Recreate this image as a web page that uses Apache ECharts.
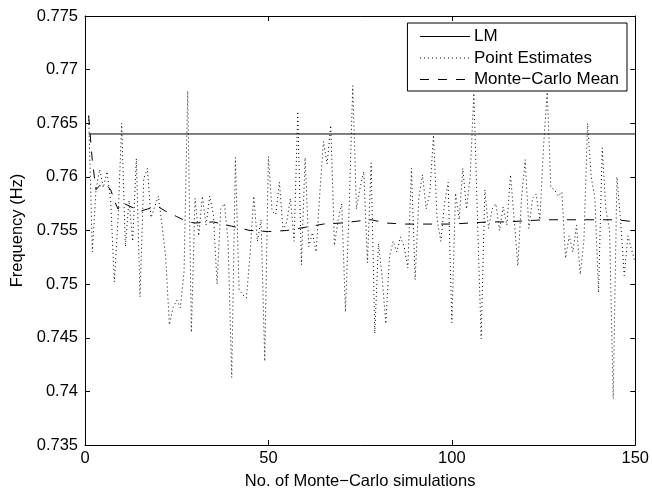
<!DOCTYPE html>
<html>
<head>
<meta charset="utf-8">
<script src="https://cdn.jsdelivr.net/npm/echarts@6/dist/echarts.min.js"></script>
<style>
html,body{margin:0;padding:0;background:#fff;}
#chart{width:652px;height:495px;}
</style>
</head>
<body>
<div id="chart"></div>
<script>
// ---- data ----
const lmValue = 0.764;
const lmRange = [1, 150];

const pointEstimates = [
  0.7657,0.7530,0.7588,0.7607,0.7590,0.7605,0.7578,0.7502,0.7560,0.7650,
  0.7535,0.7578,0.7540,0.7617,0.7488,0.7598,0.7608,0.7562,0.7572,0.7582,
  0.7555,0.7525,0.7462,0.7478,0.7485,0.7478,0.7512,0.7680,0.7455,0.7580,
  0.7545,0.7582,0.7555,0.7582,0.7565,0.7500,0.7570,0.7575,0.7540,0.7413,
  0.7618,0.7495,0.7490,0.7487,0.7528,0.7582,0.7540,0.7560,0.7428,0.7619,
  0.7568,0.7565,0.7595,0.7550,0.7558,0.7580,0.7540,0.7661,0.7518,0.7618,
  0.7535,0.7548,0.7530,0.7584,0.7633,0.7612,0.7648,0.7536,0.7560,0.7575,
  0.7474,0.7570,0.7685,0.7570,0.7590,0.7605,0.7520,0.7613,0.7454,0.7538,
  0.7507,0.7463,0.7525,0.7540,0.7530,0.7544,0.7535,0.7515,0.7608,0.7504,
  0.7580,0.7602,0.7570,0.7585,0.7639,0.7560,0.7540,0.7575,0.7595,0.7464,
  0.7585,0.7560,0.7608,0.7570,0.7600,0.7678,0.7560,0.7449,0.7588,0.7552,
  0.7570,0.7575,0.7550,0.7572,0.7555,0.7602,0.7560,0.7517,0.7580,0.7616,
  0.7552,0.7580,0.7584,0.7560,0.7628,0.7679,0.7590,0.7588,0.7582,0.7586,
  0.7524,0.7545,0.7530,0.7555,0.7509,0.7540,0.7650,0.7600,0.7580,0.7492,
  0.7627,0.7570,0.7550,0.7393,0.7600,0.7560,0.7508,0.7545,0.7532,0.7520
];

const meanX = [1,2,3,4,5,6,7,8,9,10,12,15,17,20,22,25,28,30,35,40,45,50,55,60,65,70,75,78,82,87,92,97,100,105,110,115,120,125,130,135,140,145,150];
const meanY = [0.7657,0.7615,0.7588,0.7592,0.7590,0.7592,0.7588,0.7578,0.7570,0.7576,0.7573,0.7568,0.7570,0.7572,0.7568,0.7563,0.7558,0.7557,0.7558,0.7554,0.7550,0.7549,0.7550,0.7553,0.7556,0.7557,0.7559,0.7560,0.7557,0.7556,0.7556,0.7556,0.7556,0.7557,0.7558,0.7558,0.7559,0.7560,0.7560,0.7560,0.7560,0.7560,0.7558];

const xTicks = [0, 50, 100, 150];
const yTicks = [0.735, 0.74, 0.745, 0.75, 0.755, 0.76, 0.765, 0.77, 0.775];

const seriesNames = ['LM', 'Point Estimates', 'Monte\u2212Carlo Mean'];
const xTitle = 'No. of Monte\u2212Carlo simulations';
const yTitle = 'Frequency (Hz)';

// ---- build ----
const FONT = 'Liberation Sans, Arial, Helvetica, sans-serif';
const FS = 16.5;
const pointData = pointEstimates.map((v, i) => [i + 1, v]);
const meanData = meanX.map((x, i) => [x, meanY[i]]);
const lmData = lmRange.map(x => [x, lmValue]);

const fmtY = v => String(parseFloat(v.toFixed(3)));

const axisLineStyle = {color: '#000', width: 1};
const xBase = {
  type: 'value', min: xTicks[0], max: xTicks[xTicks.length - 1],
  interval: xTicks[1] - xTicks[0],
  axisLine: {show: true, onZero: false, lineStyle: axisLineStyle},
  axisTick: {show: true, inside: true, length: 5, lineStyle: axisLineStyle},
  splitLine: {show: false}
};
const yBase = {
  type: 'value', min: yTicks[0], max: yTicks[yTicks.length - 1],
  interval: 0.005,
  axisLine: {show: true, onZero: false, lineStyle: axisLineStyle},
  axisTick: {show: true, inside: true, length: 5, lineStyle: axisLineStyle},
  splitLine: {show: false}
};

const chart = echarts.init(document.getElementById('chart'), null, {renderer: 'canvas'});
chart.setOption({
  animation: false,
  backgroundColor: '#fff',
  textStyle: {fontFamily: FONT},
  grid: {left: 85, right: 16, top: 16, bottom: 45, containLabel: false},
  xAxis: [
    Object.assign({}, xBase, {
      position: 'bottom',
      name: xTitle, nameLocation: 'middle', nameGap: 28,
      nameTextStyle: {color: '#000', fontSize: FS, fontFamily: FONT},
      axisLabel: {color: '#000', fontSize: FS, fontFamily: FONT, margin: 5}
    }),
    Object.assign({}, xBase, {position: 'top', axisLabel: {show: false}})
  ],
  yAxis: [
    Object.assign({}, yBase, {
      position: 'left',
      name: yTitle, nameLocation: 'middle', nameGap: 58,
      nameTextStyle: {color: '#000', fontSize: FS, fontFamily: FONT},
      axisLabel: {color: '#000', fontSize: FS, fontFamily: FONT, margin: 7, formatter: fmtY}
    }),
    Object.assign({}, yBase, {position: 'right', axisLabel: {show: false}})
  ],
  legend: {
    orient: 'vertical',
    right: 25, top: 23,
    backgroundColor: '#fff',
    borderColor: '#000', borderWidth: 1, borderRadius: 0,
    padding: [5, 8, 3, 12],
    itemWidth: 50, itemHeight: 14, itemGap: 4.5,
    itemStyle: {opacity: 0},
    lineStyle: {width: 1},
    textStyle: {color: '#000', fontSize: 17, fontFamily: FONT, lineHeight: 17, padding: [0, 0, 0, -1]},
    data: seriesNames
  },
  series: [
    {
      name: seriesNames[0], type: 'line', data: lmData,
      symbol: 'none', silent: true,
      lineStyle: {color: '#000', width: 1, type: 'solid'},
      itemStyle: {color: '#000'}
    },
    {
      name: seriesNames[1], type: 'line', data: pointData,
      symbol: 'none', silent: true,
      lineStyle: {color: '#000', width: 1, type: [1, 3]},
      itemStyle: {color: '#000'}
    },
    {
      name: seriesNames[2], type: 'line', data: meanData,
      symbol: 'none', silent: true, smooth: false,
      lineStyle: {color: '#000', width: 1, type: [9, 9]},
      itemStyle: {color: '#000'}
    }
  ]
});
</script>
</body>
</html>
